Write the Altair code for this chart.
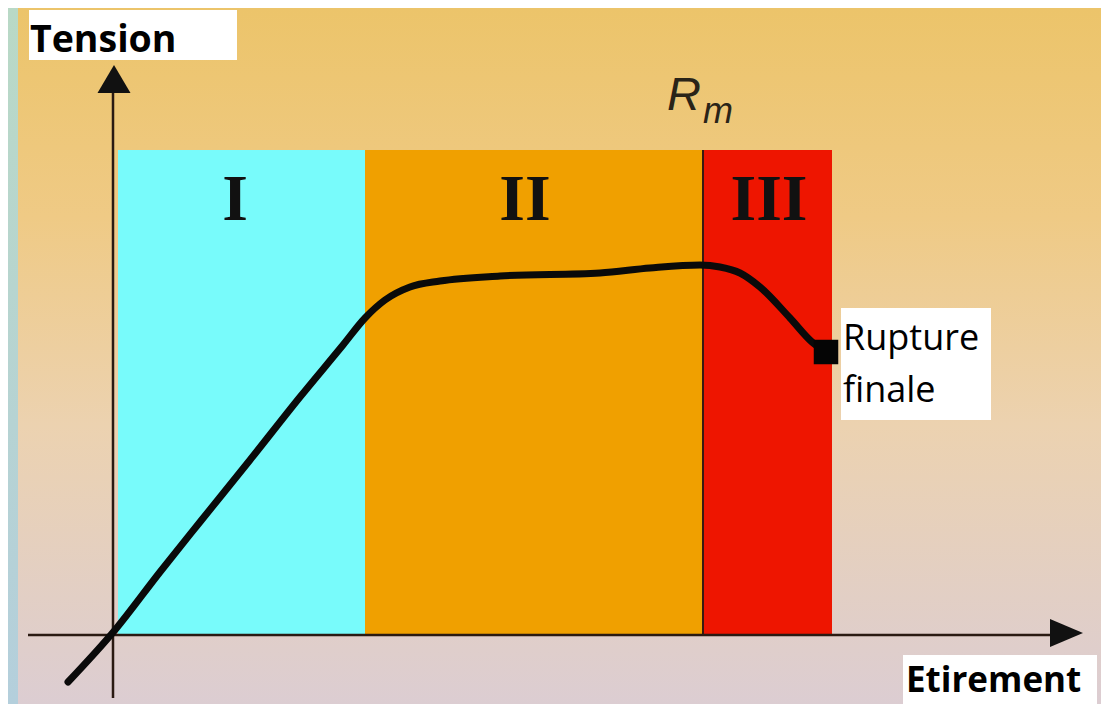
import altair as alt
import pandas as pd

# ---- data (units: Etirement along x, Tension along y; origin at axes crossing) ----
curve_x = [-0.47, 0.00, 0.45, 0.85, 1.35, 1.85, 2.28, 2.50, 2.70, 2.95, 3.25, 3.85, 4.85, 5.35, 5.85, 6.05, 6.25, 6.45, 6.75, 6.97, 7.11]
curve_y = [-0.47, 0.05, 0.63, 1.13, 1.75, 2.38, 2.90, 3.17, 3.35, 3.48, 3.54, 3.59, 3.62, 3.67, 3.70, 3.68, 3.62, 3.48, 3.17, 2.93, 2.83]

zone_names = ["I", "II", "III"]
zone_start = [0.03, 2.50, 5.88]
zone_end = [2.50, 5.88, 7.17]
zone_top = 4.85
zone_colors = ["#78fbfb", "#f0a000", "#ee1500"]
zone_label_x = [1.20, 4.10, 6.54]
zone_label_y = 4.35

rupture_x = [7.11]
rupture_y = [2.83]

X_DOMAIN = [-1.07, 9.86]
Y_DOMAIN = [-0.69, 6.27]

xs = alt.Scale(domain=X_DOMAIN, nice=False, zero=False)
ys = alt.Scale(domain=Y_DOMAIN, nice=False, zero=False)

def X(field="x"):
    return alt.X(field, type="quantitative", scale=xs, axis=None)

def Y(field="y"):
    return alt.Y(field, type="quantitative", scale=ys, axis=None)

# ---- backgrounds ----
outer = pd.DataFrame({"x": [X_DOMAIN[0]], "x2": [X_DOMAIN[1]], "y": [Y_DOMAIN[0]], "y2": [Y_DOMAIN[1]]})
outer_grad = alt.Gradient(gradient="linear", x1=0, x2=0, y1=0, y2=1,
                          stops=[alt.GradientStop(color="#b9d9c6", offset=0),
                                 alt.GradientStop(color="#b4cfdc", offset=1)])
outer_layer = alt.Chart(outer).mark_rect(fill=outer_grad).encode(x=X(), x2="x2", y=Y(), y2="y2")

panel = pd.DataFrame({"x": [-0.97], "x2": [X_DOMAIN[1]], "y": [Y_DOMAIN[0]], "y2": [Y_DOMAIN[1]]})
panel_grad = alt.Gradient(gradient="linear", x1=0, x2=0, y1=0, y2=1,
                          stops=[alt.GradientStop(color="#ecc46a", offset=0),
                                 alt.GradientStop(color="#efca85", offset=0.3),
                                 alt.GradientStop(color="#ecd2b0", offset=0.6),
                                 alt.GradientStop(color="#dccdd2", offset=1)])
panel_layer = alt.Chart(panel).mark_rect(fill=panel_grad).encode(x=X(), x2="x2", y=Y(), y2="y2")

# ---- zones ----
zones = pd.DataFrame({"name": zone_names, "x": zone_start, "x2": zone_end,
                      "y": [0.0] * 3, "y2": [zone_top] * 3,
                      "lx": zone_label_x, "ly": [zone_label_y] * 3})
zone_rects = alt.Chart(zones).mark_rect().encode(
    x=X(), x2="x2", y=Y(), y2="y2",
    color=alt.Color("name:N", scale=alt.Scale(domain=zone_names, range=zone_colors), legend=None))
zone_text = alt.Chart(zones).mark_text(font="Liberation Serif", fontWeight="bold", fontSize=66,
                                       color="#111111", baseline="middle").encode(
    x=X("lx"), y=Y("ly"), text="name:N")

# separator between II and III
sep = pd.DataFrame({"x": [zone_start[2]], "y": [0.0], "y2": [zone_top]})
sep_layer = alt.Chart(sep).mark_rule(color="#3a1a10", strokeWidth=2).encode(x=X(), y=Y(), y2="y2")

# ---- axes ----
vaxis = pd.DataFrame({"x": [-0.02], "y": [-0.63], "y2": [5.45]})
haxis = pd.DataFrame({"x": [-0.87], "x2": [9.37], "y": [0.0]})
vaxis_layer = alt.Chart(vaxis).mark_rule(color="#2a1a12", strokeWidth=2.5).encode(x=X(), y=Y(), y2="y2")
haxis_layer = alt.Chart(haxis).mark_rule(color="#2a1a12", strokeWidth=2.5).encode(x=X(), x2="x2", y=Y())

up_arrow = pd.DataFrame({"x": [-0.01], "y": [5.56]})
right_arrow = pd.DataFrame({"x": [9.515], "y": [0.02]})
up_layer = alt.Chart(up_arrow).mark_point(shape="M0,-0.85L1,0.85L-1,0.85Z", filled=True, size=1089,
                                          color="#111111", opacity=1).encode(x=X(), y=Y())
right_layer = alt.Chart(right_arrow).mark_point(shape="M1,0L-1,0.85L-1,-0.85Z", filled=True, size=1089,
                                                color="#111111", opacity=1).encode(x=X(), y=Y())

# ---- curve ----
curve = pd.DataFrame({"x": curve_x, "y": curve_y})
curve_layer = alt.Chart(curve).mark_line(color="#0a0a0a", strokeWidth=7, interpolate="monotone",
                                         strokeCap="round", strokeJoin="round").encode(
    x=X(), y=Y(), order=alt.Order("x:Q"))
rupt = pd.DataFrame({"x": rupture_x, "y": rupture_y})
rupt_layer = alt.Chart(rupt).mark_square(size=600, color="#050505", opacity=1).encode(x=X(), y=Y())

# ---- text boxes ----
boxes = pd.DataFrame({"x": [-0.86, 7.88, 7.26], "x2": [1.22, 9.82, 8.76],
                      "y": [5.75, -0.69, 2.15], "y2": [6.25, -0.20, 3.27]})
box_layer = alt.Chart(boxes).mark_rect(color="white").encode(x=X(), x2="x2", y=Y(), y2="y2")

bold_labels = pd.DataFrame({"x": [-0.85, 7.91], "y": [5.83, -0.57], "t": ["Tension", "Etirement"],
                            "s": [37.5, 35]})
bold_layer = alt.Chart(bold_labels).mark_text(font="Open Sans", fontWeight="bold", align="left",
                                              baseline="alphabetic", color="#000000").encode(
    x=X(), y=Y(), text="t:N", size=alt.Size("s:Q", scale=None, legend=None))

rupt_labels = pd.DataFrame({"x": [7.28, 7.28], "y": [2.85, 2.33], "t": ["Rupture", "finale"]})
rupt_text = alt.Chart(rupt_labels).mark_text(font="Open Sans", fontSize=36, align="left",
                                             baseline="alphabetic", color="#000000").encode(
    x=X(), y=Y(), text="t:N")

rm_R = pd.DataFrame({"x": [5.52], "y": [5.25], "t": ["R"]})
rm_m = pd.DataFrame({"x": [5.88], "y": [5.12], "t": ["m"]})
R_layer = alt.Chart(rm_R).mark_text(font="Liberation Sans", fontStyle="italic", fontSize=47, align="left",
                                    baseline="alphabetic", color="#2a2418").encode(x=X(), y=Y(), text="t:N")
m_layer = alt.Chart(rm_m).mark_text(font="Liberation Sans", fontStyle="italic", fontSize=36, align="left",
                                    baseline="alphabetic", color="#2a2418").encode(x=X(), y=Y(), text="t:N")

chart = alt.layer(
    outer_layer, panel_layer, zone_rects, sep_layer, zone_text,
    vaxis_layer, haxis_layer, up_layer, right_layer,
    curve_layer, rupt_layer,
    box_layer, bold_layer, rupt_text, R_layer, m_layer
).properties(
    width=1093, height=696, padding=0, autosize="none"
).configure_view(stroke=None).configure(background="#b9d6cf")

chart.save("out.html", embed_options={"renderer": "svg", "actions": False})
